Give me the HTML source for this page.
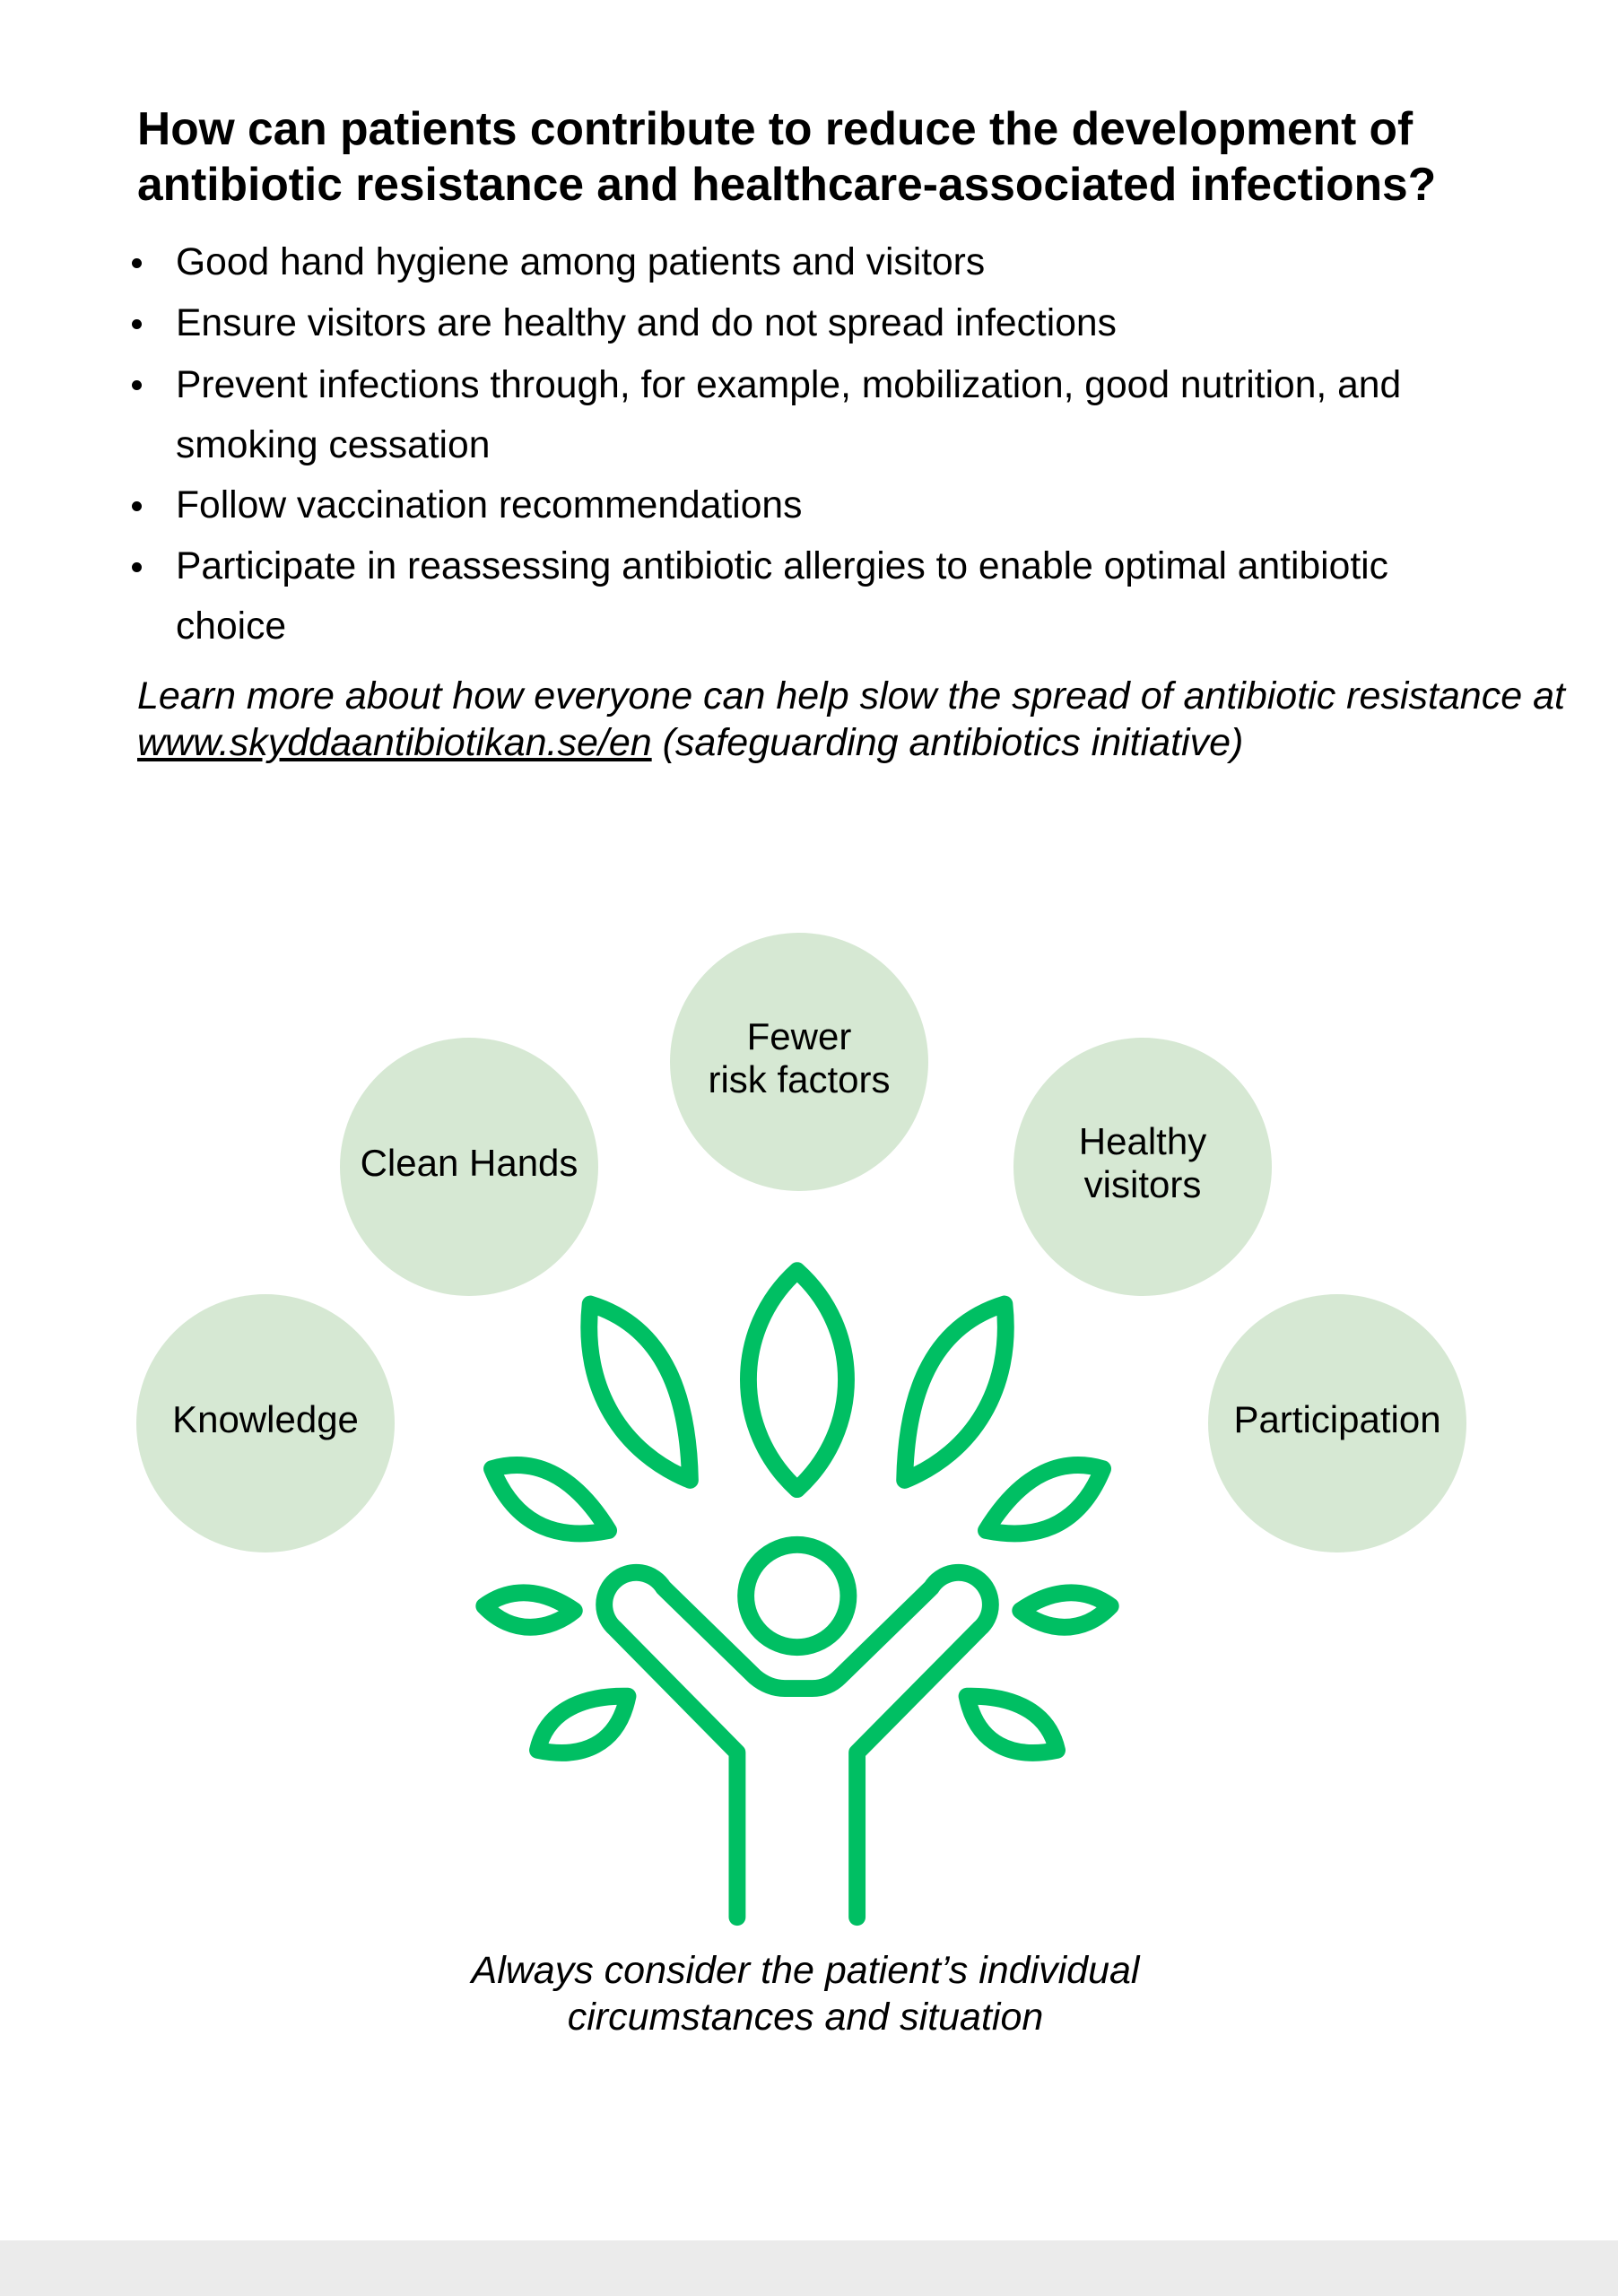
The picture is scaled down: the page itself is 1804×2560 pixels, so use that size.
<!DOCTYPE html>
<html><head><meta charset="utf-8"><style>
body{margin:0;width:1804px;height:2560px;background:#fff;position:relative;overflow:hidden;font-family:"Liberation Sans",Arial,sans-serif;color:#000}
.l{position:absolute;white-space:nowrap;line-height:1}
.t{font-size:51.5px;font-weight:bold;left:153px}
.b{font-size:42.6px;left:196px}
.d{position:absolute;left:147px;width:11px;height:11px;border-radius:50%;background:#000}
.i{font-size:43px;font-style:italic}
.c{position:absolute;border-radius:50%;background:#d6e8d3;width:288px;height:288px;display:flex;align-items:center;justify-content:center;text-align:center;font-size:42px;line-height:48px;padding-bottom:8px;box-sizing:border-box}
</style></head><body>
<div class="l t" style="top:118px">How can patients contribute to reduce the development of</div>
<div class="l t" style="top:180px">antibiotic resistance and healthcare-associated infections?</div>

<div class="d" style="top:288px"></div><div class="l b" style="top:271px">Good hand hygiene among patients and visitors</div>
<div class="d" style="top:356px"></div><div class="l b" style="top:339px">Ensure visitors are healthy and do not spread infections</div>
<div class="d" style="top:424px"></div><div class="l b" style="top:408px">Prevent infections through, for example, mobilization, good nutrition, and</div>
<div class="l b" style="top:475px">smoking cessation</div>
<div class="d" style="top:559px"></div><div class="l b" style="top:542px">Follow vaccination recommendations</div>
<div class="d" style="top:627px"></div><div class="l b" style="top:610px">Participate in reassessing antibiotic allergies to enable optimal antibiotic</div>
<div class="l b" style="top:677px">choice</div>

<div class="l i" style="left:153px;top:755px">Learn more about how everyone can help slow the spread of antibiotic resistance at</div>
<div class="l i" style="left:153px;top:807px"><span style="text-decoration:underline">www.skyddaantibiotikan.se/en</span> (safeguarding antibiotics initiative)</div>

<div class="c" style="left:747px;top:1040px">Fewer<br>risk factors</div>
<div class="c" style="left:379px;top:1157px">Clean Hands</div>
<div class="c" style="left:1130px;top:1157px">Healthy<br>visitors</div>
<div class="c" style="left:152px;top:1443px">Knowledge</div>
<div class="c" style="left:1347px;top:1443px">Participation</div>

<svg style="position:absolute;left:0;top:0" width="1804" height="2560">
<g transform="translate(500,1380) scale(0.5102)" fill="none" stroke="#00bf63" stroke-width="37" stroke-linejoin="round" stroke-linecap="round">
<path d="M762,72 C620,200 620,420 762,550 C905,420 905,200 762,72 Z"/>
<path d="M310,145 C290,330 380,470 528,530 C525,380 490,200 310,145 Z"/>
<path d="M1215,145 C1235,330 1145,470 997,530 C1000,380 1035,200 1215,145 Z"/>
<path d="M95,505 C180,480 270,510 350,640 C250,660 150,640 95,505 Z"/>
<path d="M1430,505 C1345,480 1255,510 1175,640 C1275,660 1375,640 1430,505 Z"/>
<path d="M78,805 C140,760 210,770 275,815 C220,860 140,870 78,805 Z"/>
<path d="M1447,805 C1385,760 1315,770 1250,815 C1305,860 1385,870 1447,805 Z"/>
<path d="M392,1002 C300,1000 215,1030 195,1120 C290,1140 370,1110 392,1002 Z"/>
<path d="M1133,1002 C1225,1000 1310,1030 1330,1120 C1235,1140 1155,1110 1133,1002 Z"/>
<circle cx="762" cy="783" r="112"/>
<path d="M631,1485 L631,1125 L365,855 A70,70 0 1 1 470,765 L670,960 Q700,985 735,985 L795,985 Q830,985 855,960 L1055,765 A70,70 0 1 1 1160,855 L893,1125 L893,1485"/>
</g>
</svg>

<div class="l i" style="left:0;width:1796px;text-align:center;top:2176px">Always consider the patient’s individual</div>
<div class="l i" style="left:0;width:1796px;text-align:center;top:2228px">circumstances and situation</div>

<div style="position:absolute;left:0;top:2498px;width:1804px;height:62px;background:#ebebeb"></div>
</body></html>
